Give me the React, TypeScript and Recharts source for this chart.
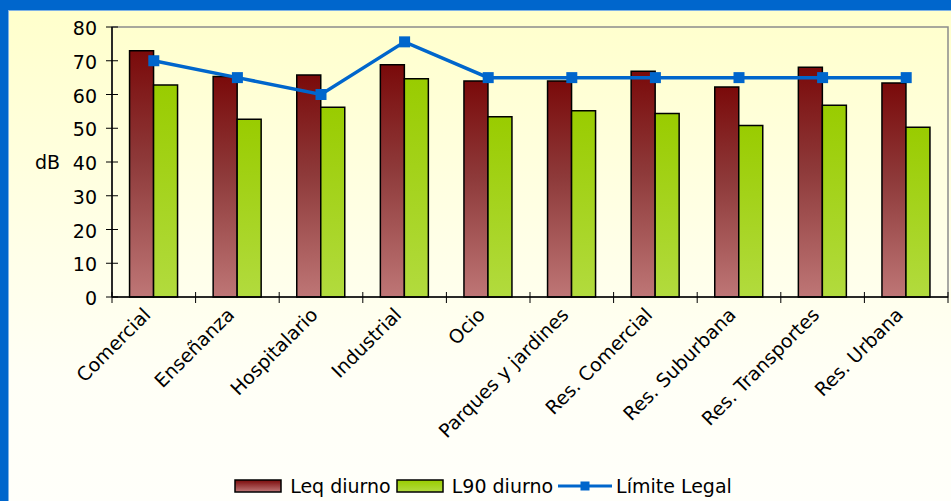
import React from 'react';
import {
  ComposedChart,
  Bar,
  Line,
  XAxis,
  YAxis,
  Legend,
  ReferenceArea,
} from 'recharts';

const categories = [
  'Comercial',
  'Enseñanza',
  'Hospitalario',
  'Industrial',
  'Ocio',
  'Parques y jardines',
  'Res. Comercial',
  'Res. Suburbana',
  'Res. Transportes',
  'Res. Urbana',
];
const leqDiurno = [73, 65.3, 65.8, 68.8, 64, 64, 66.9, 62.2, 68.1, 63.4];
const l90Diurno = [62.8, 52.7, 56.2, 64.7, 53.4, 55.2, 54.4, 50.8, 56.8, 50.3];
const limiteLegal = [70, 65, 60, 75.6, 65, 65, 65, 65, 65, 65];
const yTicks = [0, 10, 20, 30, 40, 50, 60, 70, 80];

const seriesNames = {
  leq: 'Leq diurno',
  l90: 'L90 diurno',
  limite: 'Límite Legal',
};

const data = categories.map((name, i) => ({
  name,
  leq: leqDiurno[i],
  l90: l90Diurno[i],
  limite: limiteLegal[i],
}));

const FONT = '"DejaVu Sans", Verdana, sans-serif';
const FS = 19;
const BLUE = '#0066CC';

const XTick = (props: any) => {
  const { x, y, payload } = props;
  const off = payload && payload.offset != null ? payload.offset : 0;
  const isLast = payload.value === categories[categories.length - 1];
  const ax = x - 2;
  const ay = y + 19;
  return (
    <g>
      <line x1={x - off} x2={x - off} y1={y - 5} y2={y + 6} stroke="#000" strokeWidth={1} />
      {isLast && (
        <line x1={x + off} x2={x + off} y1={y - 5} y2={y + 6} stroke="#000" strokeWidth={1} />
      )}
      <text
        x={ax}
        y={ay}
        transform={`rotate(-45, ${ax}, ${ay})`}
        textAnchor="end"
        fontSize={FS}
        fontFamily={FONT}
        fill="#000"
      >
        {payload.value}
      </text>
    </g>
  );
};

const YTick = (props: any) => {
  const { x, y, payload } = props;
  return (
    <g>
      <line x1={x - 6} x2={x + 6} y1={y} y2={y} stroke="#000" strokeWidth={1} />
      <text
        x={x - 15}
        y={y + 8}
        textAnchor="end"
        fontSize={FS}
        fontFamily={FONT}
        fill="#000"
      >
        {payload.value}
      </text>
    </g>
  );
};

const LegendContent = () => {
  const textStyle: React.CSSProperties = {
    fontSize: FS,
    fontFamily: FONT,
    color: '#000',
    marginLeft: 8,
    marginRight: 5,
    whiteSpace: 'nowrap',
  };
  return (
    <div
      style={{
        display: 'flex',
        justifyContent: 'center',
        alignItems: 'center',
        height: 24,
        paddingLeft: 15,
      }}
    >
      <svg width={48} height={14}>
        <defs>
          <linearGradient id="lgLeq" x1="0" y1="0" x2="0" y2="1">
            <stop offset="0%" stopColor="#7A0A0A" />
            <stop offset="100%" stopColor="#C07878" />
          </linearGradient>
        </defs>
        <rect x={1} y={1} width={46} height={12} fill="url(#lgLeq)" stroke="#000" strokeWidth={1.5} />
      </svg>
      <span style={textStyle}>{seriesNames.leq}</span>
      <svg width={48} height={14}>
        <defs>
          <linearGradient id="lgL90" x1="0" y1="0" x2="0" y2="1">
            <stop offset="0%" stopColor="#99CC00" />
            <stop offset="100%" stopColor="#B3DC40" />
          </linearGradient>
        </defs>
        <rect x={1} y={1} width={46} height={12} fill="url(#lgL90)" stroke="#000" strokeWidth={1.5} />
      </svg>
      <span style={textStyle}>{seriesNames.l90}</span>
      <svg width={54} height={14}>
        <line x1={0} x2={54} y1={7} y2={7} stroke={BLUE} strokeWidth={3} />
        <rect x={22.5} y={2.5} width={9} height={9} fill={BLUE} />
      </svg>
      <span style={{ ...textStyle, marginLeft: 4 }}>{seriesNames.limite}</span>
    </div>
  );
};

const SquareDot = (props: any) => {
  const { cx, cy } = props;
  if (cx == null || cy == null) return null;
  return <rect x={cx - 5.5} y={cy - 5.5} width={11} height={11} fill={BLUE} />;
};

export default function App() {
  return (
    <div
      style={{
        position: 'absolute',
        left: 0,
        top: 0,
        width: 951,
        height: 501,
        background: BLUE,
        overflow: 'hidden',
      }}
    >
      <div
        style={{
          position: 'absolute',
          left: 8,
          top: 10,
          width: 943,
          height: 491,
          background: 'linear-gradient(to bottom, #FFFFCC 0%, #FFFFE6 45%, #FFFFF6 75%, #FFFFFA 100%)',
          borderTop: '1px solid #7FB2E5',
          borderLeft: '1px solid #7FB2E5',
          boxSizing: 'border-box',
        }}
      >
        <div style={{ position: 'absolute', left: -1, top: -1 }}>
          <ComposedChart
            width={943}
            height={491}
            data={data}
            margin={{ top: 17, right: 3, left: 0, bottom: 3 }}
            barCategoryGap="21%"
            barGap={0}
          >
            <defs>
              <linearGradient id="gLeq" x1="0" y1="0" x2="0" y2="1">
                <stop offset="0%" stopColor="#7A0A0A" />
                <stop offset="45%" stopColor="#8E3A3A" />
                <stop offset="100%" stopColor="#BE7676" />
              </linearGradient>
              <linearGradient id="gL90" x1="0" y1="0" x2="0" y2="1">
                <stop offset="0%" stopColor="#99CC00" />
                <stop offset="100%" stopColor="#B2DB3E" />
              </linearGradient>
            </defs>
            <ReferenceArea
              y1={0}
              y2={80}
              fill="none"
              stroke="#8C8C8C"
              strokeWidth={1.5}
              ifOverflow="visible"
            />
            <XAxis
              dataKey="name"
              interval={0}
              height={177}
              axisLine={{ stroke: '#000', strokeWidth: 1.5 }}
              tickLine={false}
              tickSize={0}
              tickMargin={0}
              tick={<XTick />}
            />
            <YAxis
              domain={[0, 80]}
              ticks={yTicks}
              width={104}
              axisLine={{ stroke: '#000', strokeWidth: 1.5 }}
              tickLine={false}
              tickSize={0}
              tickMargin={0}
              tick={<YTick />}
              label={{
                value: 'dB',
                position: 'insideLeft',
                offset: 27,
                style: { fontSize: FS, fontFamily: FONT, fill: '#000' },
              }}
            />
            <Bar
              dataKey="leq"
              name={seriesNames.leq}
              fill="url(#gLeq)"
              stroke="#000"
              strokeWidth={1.5}
              isAnimationActive={false}
            />
            <Bar
              dataKey="l90"
              name={seriesNames.l90}
              fill="url(#gL90)"
              stroke="#000"
              strokeWidth={1.5}
              isAnimationActive={false}
            />
            <Line
              dataKey="limite"
              name={seriesNames.limite}
              stroke={BLUE}
              strokeWidth={3.5}
              dot={<SquareDot />}
              activeDot={false}
              isAnimationActive={false}
            />
            <Legend verticalAlign="bottom" content={<LegendContent />} />
          </ComposedChart>
        </div>
      </div>
    </div>
  );
}
